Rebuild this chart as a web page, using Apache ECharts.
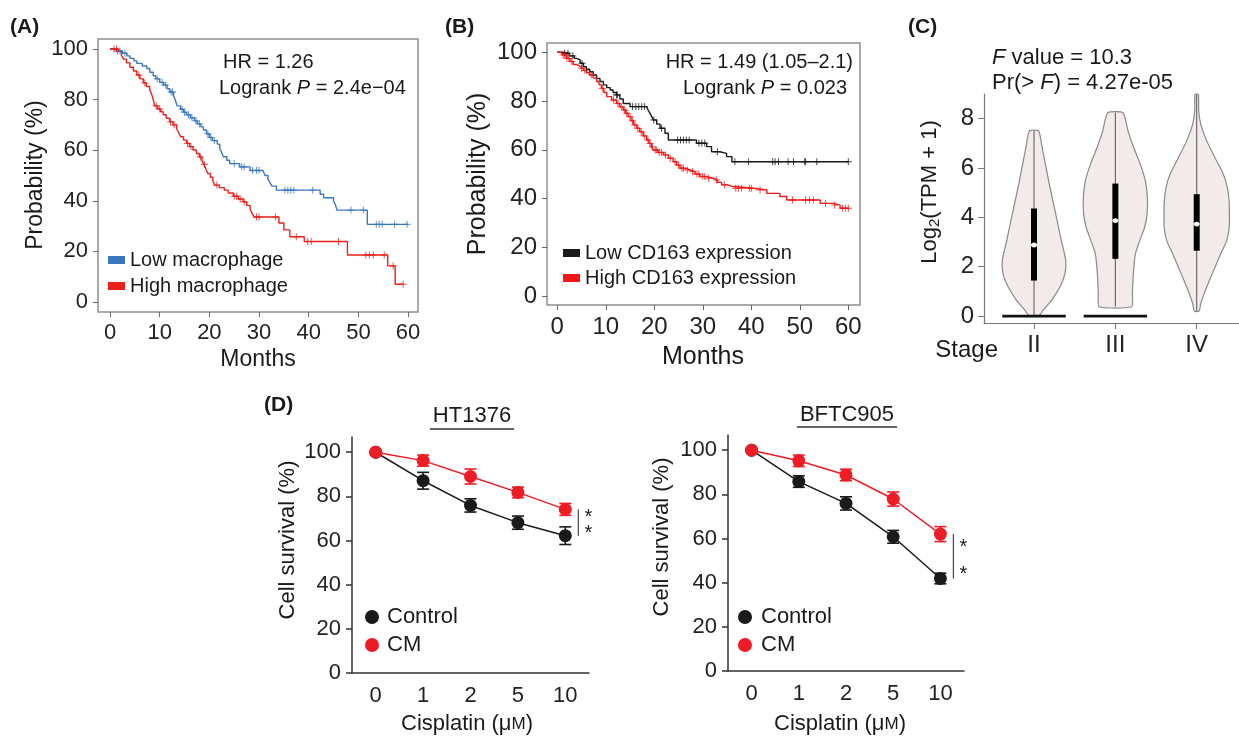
<!DOCTYPE html>
<html><head><meta charset="utf-8">
<script src="https://cdn.jsdelivr.net/npm/echarts@6/dist/echarts.min.js"></script>
<style>html,body{margin:0;padding:0;background:#fff}#c{width:1239px;height:736px}</style>
</head><body><div id="c"></div>
<script>
// ---------- DATA ----------
const monthTicks = [0, 10, 20, 30, 40, 50, 60];
const probTicks = [0, 20, 40, 60, 80, 100];

// Panel A: Kaplan-Meier steps [month, survival %]
const lowMacrophage = [[0,100],[1.2,99.2],[2.5,98.3],[3.4,97.3],[4.0,96.3],[4.8,95.3],[5.4,94.3],[6.5,93.3],[7.4,92.3],[8.0,90.8],[8.7,89.4],[9.2,88.2],[10.0,86.8],[10.8,85.7],[11.5,84.3],[12.0,83.0],[12.8,81.5],[13.2,79.5],[13.5,77.5],[14.2,76.2],[14.8,75.0],[15.4,74.0],[16.2,72.8],[17.0,71.6],[17.6,70.4],[18.3,69.2],[18.8,68.0],[19.4,66.5],[20.0,65.0],[20.6,63.8],[21.6,62.4],[22.1,60.6],[22.5,59.0],[22.8,57.4],[23.5,56.0],[24.1,54.7],[26.1,53.4],[28.2,52.0],[30.8,51.4],[31.2,50.0],[31.8,48.6],[32.2,47.2],[32.6,45.8],[33.5,44.2],[42.3,42.6],[43.0,41.2],[45.0,40.0],[45.4,38.3],[45.7,36.3],[51.8,30.7],[60,30.7]];
const highMacrophage = [[0,100],[1.7,99],[2.3,97.5],[2.7,96],[3.3,94.5],[4.0,92.8],[4.7,91.3],[5.4,89.7],[6.0,88.2],[6.7,86.6],[7.3,85.2],[8.0,83.8],[8.4,82],[8.7,80],[9.0,77.5],[9.6,76.3],[10.2,75.2],[10.7,74.0],[11.3,72.6],[12.0,71.2],[12.7,70.0],[13.4,68.6],[13.8,67],[14.2,65.3],[14.8,64],[15.4,62.7],[16.0,61.4],[16.7,60.1],[17.4,58.7],[18.0,57.3],[18.5,55.8],[18.9,54.4],[19.3,52.5],[19.7,50.8],[20.2,49.3],[20.7,47.8],[21.1,46.2],[22.0,45.2],[23.0,44.2],[23.8,43.1],[24.8,41.8],[25.8,40.7],[26.8,39.6],[27.5,38.2],[28.2,36.6],[28.6,35.0],[29.0,33.6],[34.0,31.2],[35.0,28.5],[36.2,25.8],[39.1,23.9],[47.8,18.6],[55.9,14.3],[57.4,7.0],[59,7.0]];
const lowMacrophageCensor = [[1.5,99.2],[2.0,99.2],[3.0,98.3],[9.5,88.2],[10.5,86.8],[11.2,85.7],[12.3,83],[12.6,83],[14.5,76.2],[15.0,75],[15.8,74],[16.5,72.8],[17.3,71.6],[18.0,70.4],[19.7,66.5],[20.3,65],[21.0,63.8],[25.0,54.7],[26.5,53.4],[27.0,53.4],[28.7,52],[29.5,52],[30.0,52],[35.2,44.2],[35.8,44.2],[36.4,44.2],[37.0,44.2],[40.8,44.2],[48.5,36.3],[51.0,36.3],[53.6,30.7],[54.2,30.7],[54.8,30.7],[57.3,30.7],[59.8,30.7]];
const highMacrophageCensor = [[0.8,100],[1.3,100],[5.8,89.7],[7.0,86.6],[9.3,77.5],[10.0,76.3],[12.2,71.2],[12.9,70],[15.6,62.7],[16.3,61.4],[18.2,57.3],[19.0,54.4],[21.5,46.2],[25.0,41.8],[25.5,41.8],[26.2,40.7],[27.0,39.6],[29.5,33.6],[30.0,33.6],[33.3,33.6],[37.5,25.8],[39.8,23.9],[40.5,23.9],[46.0,23.9],[51.5,18.6],[52.2,18.6],[53.0,18.6],[55.2,18.6],[57.0,14.3],[59.0,7.0]];

// Panel B
const lowCD163 = [[0,100],[1.0,99.6],[2.5,98.5],[3.5,97.5],[4.0,96.9],[4.7,95.5],[5.4,94.1],[6.0,93],[6.7,92],[7.4,90.7],[8.1,89.3],[8.8,88],[9.5,86.6],[10.2,85.5],[10.9,84.5],[11.5,83.5],[12.2,82.5],[12.9,80.8],[13.6,79],[15.0,77.7],[18.4,77],[18.8,76],[19.1,75],[19.5,73.5],[19.8,72.2],[20.5,70.5],[21.2,68.8],[22.2,66.8],[22.9,64],[28.7,62.7],[30.8,61.3],[31.8,59.2],[33.5,58.5],[34.9,57.2],[36.0,55.1],[60,55.1]];
const highCD163 = [[0,100],[0.8,99.5],[1.2,98.9],[1.9,97.5],[2.6,96.2],[3.3,95],[4.0,94.2],[4.7,93.4],[5.4,92.5],[6.0,91.6],[6.7,90.7],[7.4,89.4],[8.1,88],[8.6,86.6],[9.1,85.2],[9.6,83.5],[10.2,81.8],[11.2,80.4],[12.2,79],[12.9,77.6],[13.6,76.3],[14.1,75],[14.6,73.6],[15.2,71.9],[15.7,70.2],[16.4,68.8],[17.0,67.4],[17.7,65.7],[18.4,64],[18.9,62.6],[19.4,61.2],[19.8,59.9],[20.8,58.9],[21.9,57.9],[22.9,56.5],[23.9,55.1],[24.6,53.7],[25.3,52.4],[26.3,51.7],[27.4,51],[28.4,50],[29.4,49],[30.8,48.3],[32.2,47.6],[33.0,46.6],[33.9,45.6],[35.1,44.9],[36.3,44.2],[40.4,43.5],[43.2,42.1],[45.9,40.8],[47.3,39.4],[54.2,38.0],[56.9,37.3],[58.3,36.0],[60,36.0]];
const lowCD163Censor = [[1.5,99.6],[2.2,99.6],[3.2,98.5],[5.1,95.5],[12.2,82.5],[12.4,82.5],[15.5,77.7],[16.2,77.7],[16.8,77.7],[17.4,77.7],[18.0,77.7],[19.9,72.2],[21.5,68.8],[24.8,64],[25.4,64],[26.0,64],[26.6,64],[27.2,64],[29.2,62.7],[29.8,62.7],[30.4,62.7],[33.0,59.2],[36.6,55.1],[39.4,55.1],[44.4,55.1],[44.9,55.1],[45.6,55.1],[47.6,55.1],[48.7,55.1],[51.0,55.1],[51.2,55.1],[53.5,55.1],[60,55.1]];
const highCD163Censor = [[1.2,98.9],[1.6,98.9],[2.0,97.5],[2.4,97.5],[3.0,96.2],[5.0,93.4],[5.7,92.5],[7.0,90.7],[9.3,85.2],[11.6,80.4],[12.5,79],[13.2,77.6],[13.9,76.3],[14.3,75],[15.0,73.6],[15.5,71.9],[16.0,70.2],[16.6,68.8],[17.3,67.4],[17.9,65.7],[18.7,64],[19.1,62.6],[19.6,61.2],[20.2,59.9],[20.5,59.9],[21.0,58.9],[21.5,58.9],[22.3,57.9],[23.3,56.5],[24.3,55.1],[25.0,53.7],[25.7,52.4],[26.0,52.4],[26.8,51.7],[27.9,51],[28.8,50],[29.2,50],[30.0,49],[30.4,49],[31.2,48.3],[32.8,47.6],[34.5,45.6],[36.8,44.2],[37.3,44.2],[38.0,44.2],[39.6,44.2],[40.0,44.2],[41.8,43.5],[48.5,39.4],[51.2,39.4],[52.0,39.4],[52.8,39.4],[55.3,38.0],[57.2,37.3],[58.8,36.0],[59.4,36.0],[60,36.0]];

// Panel C: violins (Log2(TPM+1)) per stage
const stages = ['II', 'III', 'IV'];
const stagePos = [1, 2, 3];
const violinValues = [
  [7.5, 6.83, 5.48, 4.13, 3.06, 2.25, 1.71, 1.17, 0.63, 0.23, 0.03],
  [8.24, 7.5, 6.83, 6.15, 5.48, 4.81, 4.13, 3.6, 3.06, 2.52, 1.71, 0.9, 0.38],
  [8.98, 8.31, 7.77, 7.1, 6.42, 5.75, 5.21, 4.67, 4.13, 3.6, 3.06, 2.52, 1.98, 1.44, 0.9, 0.5, 0.2]
];
const violinHalfWidths = [
  [0.057, 0.10, 0.18, 0.267, 0.336, 0.39, 0.38, 0.316, 0.213, 0.11, 0.065],
  [0.094, 0.156, 0.225, 0.307, 0.369, 0.394, 0.39, 0.36, 0.30, 0.246, 0.221, 0.209, 0.2],
  [0.02, 0.025, 0.05, 0.123, 0.225, 0.328, 0.377, 0.398, 0.402, 0.40, 0.369, 0.295, 0.225, 0.156, 0.09, 0.049, 0.03]
];
const whiskerLow = [0, 0.38, 0.2];
const whiskerHigh = [7.5, 8.24, 8.98];
const q1 = [1.44, 2.32, 2.65];
const q3 = [4.36, 5.37, 4.94];
const medians = [2.88, 3.87, 3.73];
const zeroHalfWidth = [0.39, 0.39, 0];
const log2Ticks = [0, 2, 4, 6, 8];

// Panel D
const doses = ['0', '1', '2', '5', '10'];
const survivalTicks = [0, 20, 40, 60, 80, 100];
const ht1376Control = [100, 87.1, 75.9, 68.1, 62.2];
const ht1376ControlErr = [0, 3.8, 3.0, 3.0, 4.0];
const ht1376CM = [100, 96.2, 89.0, 81.8, 74.1];
const ht1376CMErr = [0, 2.5, 3.4, 2.4, 2.7];
const bftcControl = [100, 85.8, 75.9, 60.8, 41.9];
const bftcControlErr = [0, 2.6, 3.0, 2.9, 2.4];
const bftcCM = [100, 95.2, 88.8, 77.9, 62.0];
const bftcCMErr = [0, 2.6, 2.6, 3.2, 3.4];

// ---------- STYLE ----------
const FONT = 'Arial, "Liberation Sans", Helvetica, sans-serif';
const BLUE = '#3a78bd', RED_A = '#e8211c', RED = '#f21818', BLACK = '#1a1a1a', DRED = '#ee1c24';
const CROSS = 'path://M5,0L5,10M0,5L10,5';

const chart = echarts.init(document.getElementById('c'), null, {renderer: 'canvas'});

function kmX(idx, min, max, size) {
  return {gridIndex: idx, type: 'value', min: min, max: max,
    axisLine: {show: false, onZero: false}, splitLine: {show: false},
    axisTick: {show: true, length: 5, lineStyle: {color: '#666'}, customValues: monthTicks},
    axisLabel: {color: '#222', fontSize: size, fontFamily: FONT, margin: 10, customValues: monthTicks}};
}
function kmY(idx, min, max, size) {
  return {gridIndex: idx, type: 'value', min: min, max: max,
    axisLine: {show: false, onZero: false}, splitLine: {show: false},
    axisTick: {show: true, length: 5, lineStyle: {color: '#666'}, customValues: probTicks},
    axisLabel: {color: '#222', fontSize: size, fontFamily: FONT, margin: 10, customValues: probTicks}};
}
function dX(idx) {
  return {gridIndex: idx, type: 'category', data: doses, boundaryGap: true,
    axisLine: {show: true, onZero: false, lineStyle: {color: '#333', width: 1.5}},
    axisTick: {show: false}, splitLine: {show: false},
    axisLabel: {color: '#222', fontSize: 22, fontFamily: FONT, margin: 12}};
}
function dY(idx) {
  return {gridIndex: idx, type: 'value', min: 0, max: 106.9,
    axisLine: {show: true, onZero: false, lineStyle: {color: '#333', width: 1.5}}, splitLine: {show: false},
    axisTick: {show: true, length: 6, lineStyle: {color: '#333', width: 1.5}, customValues: survivalTicks},
    axisLabel: {color: '#222', fontSize: 22, fontFamily: FONT, margin: 11, customValues: survivalTicks}};
}

function kmLine(name, data, color, xi) {
  return {name: name, type: 'line', xAxisIndex: xi, yAxisIndex: xi, data: data, step: 'end',
    symbol: 'none', lineStyle: {color: color, width: 1.4}, itemStyle: {color: color}, z: 3};
}
function kmCensor(name, data, color, xi) {
  return {name: name, type: 'scatter', xAxisIndex: xi, yAxisIndex: xi, data: data,
    symbol: CROSS, symbolSize: 7, itemStyle: {color: 'none', borderColor: color, borderWidth: 1}, z: 4};
}
function dLine(name, data, color, xi) {
  return {name: name, type: 'line', xAxisIndex: xi, yAxisIndex: xi, data: data,
    symbol: 'circle', symbolSize: 13, lineStyle: {color: color, width: 1.5},
    itemStyle: {color: color}, z: 5};
}
function errBars(name, means, errs, color, xi) {
  const d = means.map((m, i) => [i, m - errs[i], m + errs[i]]);
  return {name: name, type: 'custom', xAxisIndex: xi, yAxisIndex: xi, data: d, z: 4,
    encode: {x: 0, y: [1, 2]},
    renderItem: function (p, api) {
      if (api.value(2) - api.value(1) <= 0) return null;
      const lo = api.coord([api.value(0), api.value(1)]);
      const hi = api.coord([api.value(0), api.value(2)]);
      const st = {stroke: color, lineWidth: 1.6};
      return {type: 'group', children: [
        {type: 'line', shape: {x1: lo[0], y1: lo[1], x2: hi[0], y2: hi[1]}, style: st},
        {type: 'line', shape: {x1: lo[0] - 6, y1: lo[1], x2: lo[0] + 6, y2: lo[1]}, style: st},
        {type: 'line', shape: {x1: hi[0] - 6, y1: hi[1], x2: hi[0] + 6, y2: hi[1]}, style: st}
      ]};
    }};
}
function bracket(top, bottom, xi) {
  return {name: 'sig', type: 'custom', xAxisIndex: xi, yAxisIndex: xi, data: [[4, top, bottom]], z: 4,
    encode: {x: 0, y: [1, 2]},
    renderItem: function (p, api) {
      const a = api.coord([api.value(0), api.value(1)]);
      const b = api.coord([api.value(0), api.value(2)]);
      const x = a[0] + 13, h = b[1] - a[1];
      return {type: 'group', children: [
        {type: 'line', shape: {x1: x, y1: a[1], x2: x, y2: b[1]}, style: {stroke: '#444', lineWidth: 1.2}},
        {type: 'text', x: x + 10, y: a[1] + 0.3 * h, style: {text: '*', font: '20px ' + FONT, fill: '#222', align: 'center', verticalAlign: 'middle'}},
        {type: 'text', x: x + 10, y: a[1] + 0.9 * h, style: {text: '*', font: '20px ' + FONT, fill: '#222', align: 'center', verticalAlign: 'middle'}}
      ]};
    }};
}

function txt(x, y, text, size, extra) {
  const o = {type: 'text', x: x, y: y, silent: true,
    style: Object.assign({text: text, fontSize: size, fontFamily: FONT, fill: '#1a1a1a', align: 'left', verticalAlign: 'middle'}, extra || {})};
  return o;
}
function rot(x, y, text, size, extra) {
  const o = txt(x, y, text, size, Object.assign({align: 'center'}, extra || {}));
  o.rotation = Math.PI / 2;
  return o;
}
function itRich(size) { return {it: {fontStyle: 'italic', fontSize: size, fontFamily: FONT, fill: '#1a1a1a'}, n: {fontSize: size, fontFamily: FONT, fill: '#1a1a1a'}}; }

const violinSeries = {
  name: 'violin', type: 'custom', xAxisIndex: 2, yAxisIndex: 2,
  data: stagePos.map(p => [p, 0]), encode: {x: 0, y: 1}, z: 3,
  renderItem: function (params, api) {
    const i = params.dataIndex;
    const xc = api.value(0);
    const ys = violinValues[i], hw = violinHalfWidths[i];
    const pts = [];
    for (let k = 0; k < ys.length; k++) pts.push(api.coord([xc + hw[k], ys[k]]));
    for (let k = ys.length - 1; k >= 0; k--) pts.push(api.coord([xc - hw[k], ys[k]]));
    const ch = [{type: 'polygon', shape: {points: pts, smooth: 0.2}, style: {fill: '#f2ebe9', stroke: '#8a8a8a', lineWidth: 1.2}}];
    const wt = api.coord([xc, whiskerHigh[i]]), wb = api.coord([xc, whiskerLow[i]]);
    ch.push({type: 'line', shape: {x1: wt[0], y1: wt[1], x2: wb[0], y2: wb[1]}, style: {stroke: '#555', lineWidth: 1}});
    const a = api.coord([xc, q3[i]]), b = api.coord([xc, q1[i]]);
    ch.push({type: 'rect', shape: {x: a[0] - 3, y: a[1], width: 6, height: b[1] - a[1]}, style: {fill: '#000'}});
    const m = api.coord([xc, medians[i]]);
    ch.push({type: 'ellipse', shape: {cx: m[0], cy: m[1], rx: 3, ry: 2.4}, style: {fill: '#fff'}});
    if (zeroHalfWidth[i] > 0) {
      const l = api.coord([xc - zeroHalfWidth[i], 0]), r = api.coord([xc + zeroHalfWidth[i], 0]);
      ch.push({type: 'line', shape: {x1: l[0], y1: l[1], x2: r[0], y2: r[1]}, style: {stroke: '#111', lineWidth: 2.6}});
    }
    return {type: 'group', children: ch};
  }
};

const option = {
  animation: false,
  backgroundColor: '#fff',
  textStyle: {fontFamily: FONT},
  grid: [
    {left: 98, top: 39, width: 320, height: 273, show: true, borderColor: '#8f8f8f', borderWidth: 1.5, backgroundColor: 'transparent'},
    {left: 547, top: 43, width: 313, height: 262, show: true, borderColor: '#8f8f8f', borderWidth: 1.5, backgroundColor: 'transparent'},
    {left: 984, top: 94, width: 255, height: 229},
    {left: 352, top: 437, width: 237, height: 236},
    {left: 728, top: 435, width: 236, height: 236}
  ],
  xAxis: [
    kmX(0, -2.42, 62.0, 22),
    kmX(1, -2.12, 62.41, 24),
    {gridIndex: 2, type: 'value', min: 0.385, max: 3.52,
      axisLine: {show: true, onZero: false, lineStyle: {color: '#777', width: 1.2}}, splitLine: {show: false},
      axisTick: {show: true, length: 6, lineStyle: {color: '#777'}, customValues: stagePos},
      axisLabel: {color: '#222', fontSize: 24, fontFamily: FONT, margin: 10, customValues: stagePos,
        formatter: function (v) { return stages[Math.round(v) - 1]; }}},
    dX(3), dX(4)
  ],
  yAxis: [
    kmY(0, -3.95, 103.95, 22),
    kmY(1, -3.69, 103.8, 24),
    {gridIndex: 2, type: 'value', min: -0.28, max: 9.0,
      axisLine: {show: true, onZero: false, lineStyle: {color: '#777', width: 1.2}}, splitLine: {show: false},
      axisTick: {show: true, length: 6, lineStyle: {color: '#777'}, customValues: log2Ticks},
      axisLabel: {color: '#222', fontSize: 24, fontFamily: FONT, margin: 10, customValues: log2Ticks}},
    dY(3), dY(4)
  ],
  legend: [
    {data: ['Low macrophage', 'High macrophage'], orient: 'vertical', left: 108, top: 250, padding: 0,
      icon: 'rect', itemWidth: 17, itemHeight: 8, itemGap: 6, selectedMode: false,
      textStyle: {fontSize: 20, fontFamily: FONT, color: '#1a1a1a', lineHeight: 20}},
    {data: ['Low CD163 expression', 'High CD163 expression'], orient: 'vertical', left: 563, top: 243, padding: 0,
      icon: 'rect', itemWidth: 17, itemHeight: 8, itemGap: 5, selectedMode: false,
      textStyle: {fontSize: 20, fontFamily: FONT, color: '#1a1a1a', lineHeight: 20}},
    {data: ['Control', 'CM'], orient: 'vertical', left: 365, top: 606, padding: 0,
      icon: 'circle', itemWidth: 20, itemHeight: 14, itemGap: 6, selectedMode: false,
      textStyle: {fontSize: 22, fontFamily: FONT, color: '#1a1a1a', lineHeight: 22}},
    {data: ['Control', 'CM'], orient: 'vertical', left: 738, top: 606, padding: 0,
      icon: 'circle', itemWidth: 22, itemHeight: 14, itemGap: 6, selectedMode: false,
      textStyle: {fontSize: 22, fontFamily: FONT, color: '#1a1a1a', lineHeight: 22}}
  ],
  series: [
    kmLine('Low macrophage', lowMacrophage, BLUE, 0),
    kmLine('High macrophage', highMacrophage, RED_A, 0),
    kmCensor('lowMacCensor', lowMacrophageCensor, BLUE, 0),
    kmCensor('highMacCensor', highMacrophageCensor, RED_A, 0),
    kmLine('Low CD163 expression', lowCD163, BLACK, 1),
    kmLine('High CD163 expression', highCD163, RED, 1),
    kmCensor('lowCDCensor', lowCD163Censor, BLACK, 1),
    kmCensor('highCDCensor', highCD163Censor, RED, 1),
    violinSeries,
    errBars('ctrlErr1', ht1376Control, ht1376ControlErr, BLACK, 3),
    errBars('cmErr1', ht1376CM, ht1376CMErr, DRED, 3),
    dLine('Control', ht1376Control, BLACK, 3),
    dLine('CM', ht1376CM, DRED, 3),
    bracket(ht1376CM[4], ht1376Control[4], 3),
    errBars('ctrlErr2', bftcControl, bftcControlErr, BLACK, 4),
    errBars('cmErr2', bftcCM, bftcCMErr, DRED, 4),
    dLine('Control', bftcControl, BLACK, 4),
    dLine('CM', bftcCM, DRED, 4),
    bracket(bftcCM[4], bftcControl[4], 4)
  ],
  graphic: [
    txt(10, 27, '(A)', 21, {fontWeight: 'bold'}),
    txt(445, 27, '(B)', 21, {fontWeight: 'bold'}),
    txt(908, 27, '(C)', 21, {fontWeight: 'bold'}),
    txt(264, 405, '(D)', 21, {fontWeight: 'bold'}),
    // A annotations
    txt(223, 62, 'HR = 1.26', 20),
    txt(219, 88, '{n|Logrank }{it|P}{n| = 2.4e\u221204}', 20, {rich: itRich(20)}),
    txt(258, 360, 'Months', 23, {align: 'center'}),
    rot(36, 175, 'Probability (%)', 23),
    // B annotations
    txt(853, 62, 'HR = 1.49 (1.05\u20132.1)', 20, {align: 'right'}),
    txt(847, 88, '{n|Logrank }{it|P}{n| = 0.023}', 20, {align: 'right', rich: itRich(20)}),
    txt(703, 357, 'Months', 25, {align: 'center'}),
    rot(478, 174, 'Probability (%)', 25),
    // C annotations
    txt(992, 58, '{it|F}{n| value = 10.3}', 22, {rich: itRich(22)}),
    txt(992, 83, '{n|Pr(> }{it|F}{n|) = 4.27e-05}', 22, {rich: itRich(22)}),
    txt(998, 350, 'Stage', 24, {align: 'right'}),
    rot(930, 192, '{n|Log}{sub|2}{n|(TPM + 1)}', 22, {rich: {n: {fontSize: 22, fontFamily: FONT, fill: '#1a1a1a'}, sub: {fontSize: 15, fontFamily: FONT, fill: '#1a1a1a', padding: [10, 0, 0, 0]}}}),
    // D annotations
    txt(472, 416, 'HT1376', 22, {align: 'center'}),
    {type: 'line', silent: true, shape: {x1: 430, y1: 429, x2: 514, y2: 429}, style: {stroke: '#333', lineWidth: 1.3}},
    txt(847, 415, 'BFTC905', 22, {align: 'center'}),
    {type: 'line', silent: true, shape: {x1: 797, y1: 427, x2: 897, y2: 427}, style: {stroke: '#333', lineWidth: 1.3}},
    rot(288, 540, 'Cell survival (%)', 22),
    rot(662, 537, 'Cell survival (%)', 22),
    txt(467, 724, '{n|Cisplatin (\u03bc}{sc|M}{n|)}', 22, {align: 'center', rich: {n: {fontSize: 22, fontFamily: FONT, fill: '#1a1a1a'}, sc: {fontSize: 17, fontFamily: FONT, fill: '#1a1a1a'}}}),
    txt(840, 724, '{n|Cisplatin (\u03bc}{sc|M}{n|)}', 22, {align: 'center', rich: {n: {fontSize: 22, fontFamily: FONT, fill: '#1a1a1a'}, sc: {fontSize: 17, fontFamily: FONT, fill: '#1a1a1a'}}})
  ]
};
chart.setOption(option);
</script>
</body></html>
